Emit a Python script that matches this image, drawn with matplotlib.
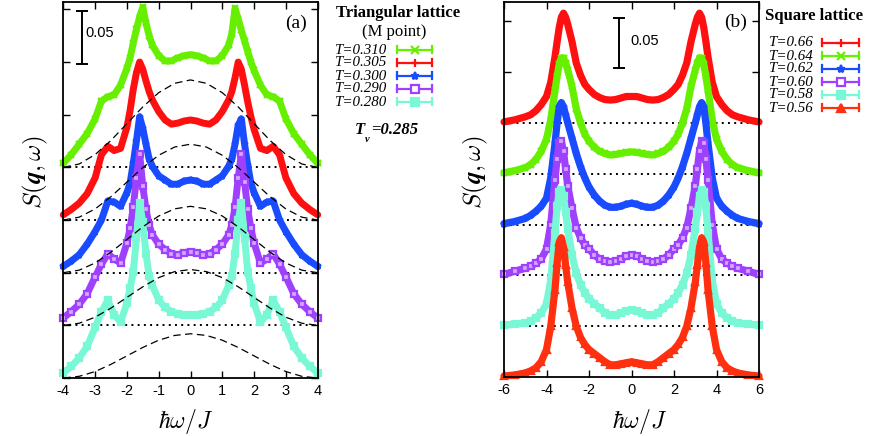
import numpy as np
import matplotlib
matplotlib.use('Agg')
import matplotlib.pyplot as plt

plt.rcParams['mathtext.fontset'] = 'cm'

# ---------------- Panel (a): triangular lattice (M point) ----------------
tri_labels = ['T=0.310', 'T=0.305', 'T=0.300', 'T=0.290', 'T=0.280']
tri_offsets = [0.20, 0.15, 0.10, 0.05, 0.00]
tri_colors = ['#66f000', '#ff1010', '#1a4cff', '#a040ff', '#78f8d4']
tri_markers = ['x', '+', '*', 's', 's']
tri_mfill = [True, True, True, False, True]

tri_x = [-4.0, -3.75, -3.5, -3.25, -3.0, -2.8, -2.6, -2.4, -2.2, -2.0, -1.9, -1.8,
         -1.7, -1.6, -1.5, -1.4, -1.3, -1.2, -1.0, -0.8, -0.6, -0.4, -0.2, 0.0,
         0.2, 0.4, 0.6, 0.8, 1.0, 1.2, 1.3, 1.4, 1.5, 1.6, 1.7, 1.8, 1.9, 2.0,
         2.2, 2.4, 2.6, 2.8, 3.0, 3.25, 3.5, 3.75, 4.0]

s_t310 = [0.004, 0.012, 0.022, 0.032, 0.046, 0.063, 0.067, 0.069, 0.078, 0.094, 0.104, 0.118,
          0.131, 0.143, 0.152, 0.137, 0.125, 0.116, 0.106, 0.101, 0.101, 0.104, 0.106, 0.107,
          0.106, 0.104, 0.101, 0.101, 0.106, 0.116, 0.127, 0.151, 0.141, 0.130, 0.120, 0.110,
          0.100, 0.092, 0.078, 0.069, 0.067, 0.063, 0.046, 0.032, 0.022, 0.012, 0.004]
s_t305 = [0.005, 0.010, 0.016, 0.025, 0.040, 0.062, 0.070, 0.066, 0.068, 0.088, 0.104, 0.124,
          0.140, 0.150, 0.143, 0.132, 0.122, 0.114, 0.103, 0.095, 0.091, 0.092, 0.094, 0.095,
          0.094, 0.092, 0.091, 0.095, 0.103, 0.114, 0.122, 0.135, 0.150, 0.143, 0.128, 0.112,
          0.098, 0.086, 0.068, 0.066, 0.070, 0.062, 0.040, 0.025, 0.016, 0.010, 0.005]
s_t300 = [0.006, 0.011, 0.017, 0.027, 0.039, 0.050, 0.068, 0.067, 0.063, 0.076, 0.085, 0.104,
          0.125, 0.148, 0.137, 0.122, 0.108, 0.101, 0.092, 0.088, 0.084, 0.084, 0.087, 0.088,
          0.087, 0.084, 0.084, 0.088, 0.092, 0.101, 0.108, 0.122, 0.140, 0.146, 0.122, 0.102,
          0.085, 0.076, 0.063, 0.067, 0.068, 0.050, 0.039, 0.027, 0.017, 0.011, 0.006]
s_t290 = [0.007, 0.013, 0.020, 0.030, 0.046, 0.058, 0.068, 0.063, 0.059, 0.078, 0.092, 0.112,
          0.140, 0.163, 0.132, 0.110, 0.095, 0.086, 0.077, 0.072, 0.068, 0.067, 0.069, 0.070,
          0.069, 0.067, 0.068, 0.072, 0.077, 0.086, 0.095, 0.112, 0.140, 0.163, 0.136, 0.110,
          0.092, 0.078, 0.059, 0.063, 0.068, 0.058, 0.046, 0.030, 0.020, 0.013, 0.007]
s_t280 = [0.005, 0.011, 0.019, 0.030, 0.048, 0.063, 0.074, 0.060, 0.053, 0.071, 0.085, 0.101,
          0.133, 0.166, 0.148, 0.118, 0.097, 0.088, 0.074, 0.067, 0.063, 0.061, 0.060, 0.060,
          0.060, 0.061, 0.063, 0.067, 0.074, 0.088, 0.097, 0.118, 0.150, 0.166, 0.133, 0.101,
          0.085, 0.071, 0.053, 0.060, 0.074, 0.063, 0.048, 0.030, 0.019, 0.011, 0.005]
tri_series = [s_t310, s_t305, s_t300, s_t290, s_t280]

# dashed reference curves (one per offset, bottom to top)
dash_x = [-4.0, -3.5, -3.0, -2.5, -2.0, -1.5, -1.0, -0.5, 0.0, 0.5, 1.0, 1.5, 2.0, 2.5, 3.0, 3.5, 4.0]
dash_offsets = [0.00, 0.05, 0.10, 0.15, 0.20]
dash_0 = [0.0, 0.0016, 0.0061, 0.0130, 0.0210, 0.0290, 0.0359, 0.0404, 0.0420,
          0.0404, 0.0359, 0.0290, 0.0210, 0.0130, 0.0061, 0.0016, 0.0]
dash_1 = [0.0, 0.0020, 0.0077, 0.0164, 0.0265, 0.0366, 0.0453, 0.0510, 0.0530,
          0.0510, 0.0453, 0.0366, 0.0265, 0.0164, 0.0077, 0.0020, 0.0]
dash_2 = [0.0, 0.0024, 0.0092, 0.0195, 0.0315, 0.0435, 0.0538, 0.0606, 0.0630,
          0.0606, 0.0538, 0.0435, 0.0315, 0.0195, 0.0092, 0.0024, 0.0]
dash_3 = [0.0, 0.0027, 0.0105, 0.0222, 0.0360, 0.0498, 0.0615, 0.0693, 0.0720,
          0.0693, 0.0615, 0.0498, 0.0360, 0.0222, 0.0105, 0.0027, 0.0]
dash_4 = [0.0, 0.0032, 0.0121, 0.0256, 0.0415, 0.0574, 0.0709, 0.0798, 0.0830,
          0.0798, 0.0709, 0.0574, 0.0415, 0.0256, 0.0121, 0.0032, 0.0]
dash_series = [dash_0, dash_1, dash_2, dash_3, dash_4]
tri_dotted = [0.05, 0.10, 0.15, 0.20]

# ---------------- Panel (b): square lattice ----------------
sq_labels = ['T=0.66', 'T=0.64', 'T=0.62', 'T=0.60', 'T=0.58', 'T=0.56']
sq_offsets = [0.25, 0.20, 0.15, 0.10, 0.05, 0.00]
sq_colors = ['#ff1010', '#66f000', '#1a4cff', '#a040ff', '#78f8d4', '#ff3010']
sq_markers = ['+', 'x', '*', 's', 's', '^']
sq_mfill = [True, True, True, False, True, True]

sq_x = [-6.0, -5.5, -5.0, -4.75, -4.5, -4.25, -4.0, -3.8, -3.6, -3.5, -3.4, -3.3, -3.2, -3.1,
        -3.0, -2.8, -2.6, -2.4, -2.2, -2.0, -1.75, -1.5, -1.25, -1.0, -0.75, -0.5, -0.25, 0.0,
        0.25, 0.5, 0.75, 1.0, 1.25, 1.5, 1.75, 2.0, 2.2, 2.4, 2.6, 2.8, 3.0, 3.1, 3.2, 3.3,
        3.4, 3.5, 3.6, 3.8, 4.0, 4.25, 4.5, 4.75, 5.0, 5.5, 6.0]

s_t66 = [0.001, 0.003, 0.006, 0.008, 0.012, 0.018, 0.026, 0.040, 0.065, 0.080, 0.094, 0.104, 0.108, 0.104,
         0.097, 0.080, 0.059, 0.047, 0.038, 0.033, 0.028, 0.025, 0.023, 0.0225, 0.023, 0.0245, 0.026, 0.026,
         0.026, 0.0245, 0.023, 0.0225, 0.023, 0.025, 0.028, 0.033, 0.038, 0.047, 0.059, 0.080, 0.097, 0.104,
         0.108, 0.104, 0.094, 0.080, 0.065, 0.040, 0.026, 0.018, 0.012, 0.008, 0.006, 0.003, 0.001]
s_t64 = [0.001, 0.003, 0.006, 0.009, 0.014, 0.022, 0.034, 0.053, 0.082, 0.096, 0.108, 0.114, 0.114, 0.109,
         0.102, 0.086, 0.064, 0.050, 0.039, 0.032, 0.026, 0.022, 0.020, 0.0185, 0.019, 0.020, 0.021, 0.0215,
         0.021, 0.020, 0.019, 0.0185, 0.020, 0.022, 0.026, 0.032, 0.039, 0.050, 0.064, 0.086, 0.102, 0.109,
         0.114, 0.114, 0.108, 0.096, 0.082, 0.053, 0.034, 0.022, 0.014, 0.009, 0.006, 0.003, 0.001]
s_t62 = [0.001, 0.003, 0.006, 0.009, 0.013, 0.018, 0.026, 0.046, 0.080, 0.100, 0.116, 0.120, 0.116, 0.108,
         0.100, 0.085, 0.070, 0.057, 0.046, 0.037, 0.029, 0.023, 0.019, 0.017, 0.017, 0.018, 0.020, 0.021,
         0.020, 0.018, 0.017, 0.017, 0.019, 0.023, 0.029, 0.037, 0.046, 0.057, 0.070, 0.085, 0.100, 0.108,
         0.116, 0.120, 0.116, 0.100, 0.080, 0.046, 0.026, 0.018, 0.013, 0.009, 0.006, 0.003, 0.001]
s_t60 = [0.001, 0.004, 0.007, 0.009, 0.012, 0.016, 0.026, 0.050, 0.094, 0.115, 0.130, 0.132, 0.122, 0.105,
         0.088, 0.066, 0.047, 0.037, 0.030, 0.026, 0.020, 0.016, 0.014, 0.013, 0.014, 0.016, 0.019, 0.020,
         0.019, 0.016, 0.014, 0.013, 0.014, 0.016, 0.020, 0.026, 0.030, 0.037, 0.047, 0.066, 0.088, 0.105,
         0.122, 0.132, 0.130, 0.115, 0.094, 0.050, 0.026, 0.016, 0.012, 0.009, 0.007, 0.004, 0.001]
s_t58 = [0.001, 0.002, 0.003, 0.005, 0.008, 0.013, 0.022, 0.045, 0.092, 0.118, 0.132, 0.134, 0.128, 0.112,
         0.096, 0.070, 0.052, 0.041, 0.033, 0.027, 0.022, 0.018, 0.013, 0.011, 0.011, 0.013, 0.015, 0.016,
         0.015, 0.013, 0.011, 0.011, 0.013, 0.018, 0.022, 0.027, 0.033, 0.041, 0.052, 0.070, 0.096, 0.112,
         0.128, 0.134, 0.132, 0.118, 0.092, 0.045, 0.022, 0.013, 0.008, 0.005, 0.003, 0.002, 0.001]
s_t56 = [0.001, 0.002, 0.004, 0.006, 0.009, 0.015, 0.027, 0.050, 0.086, 0.112, 0.133, 0.137, 0.128, 0.110,
         0.093, 0.068, 0.050, 0.039, 0.032, 0.027, 0.023, 0.019, 0.015, 0.012, 0.012, 0.013, 0.014, 0.015,
         0.014, 0.013, 0.012, 0.012, 0.015, 0.019, 0.023, 0.027, 0.032, 0.039, 0.050, 0.068, 0.093, 0.110,
         0.128, 0.137, 0.133, 0.112, 0.086, 0.050, 0.027, 0.015, 0.009, 0.006, 0.004, 0.002, 0.001]
sq_series = [s_t66, s_t64, s_t62, s_t60, s_t58, s_t56]
sq_dotted = [0.05, 0.10, 0.15, 0.20, 0.25]

scale_bar = 0.05
tri_xticks = [-4, -3, -2, -1, 0, 1, 2, 3, 4]
sq_xticks = [-6, -4, -2, 0, 2, 4, 6]

# ---------------- figure ----------------
W, H = 871.0, 436.0
fig = plt.figure(figsize=(W / 100, H / 100), dpi=100)


def pix_axes(l, t, r, b):
    return fig.add_axes([l / W, 1 - b / H, (r - l) / W, (b - t) / H])


axa = pix_axes(63.3, 2, 317.7, 378)
axb = pix_axes(504, 2, 759, 377)

tick_font = dict(family=['Liberation Sans', 'DejaVu Sans'], size=10.5)


def style_axes(ax, xlim, ylim, xticks):
    ax.set_xlim(*xlim)
    ax.set_ylim(*ylim)
    ax.set_xticks(xticks)
    ax.set_xticklabels([str(t) for t in xticks], fontdict=tick_font)
    ax.set_yticks(np.arange(0, ylim[1], 0.05))
    ax.tick_params(axis='both', direction='in', length=5, width=1.0, top=True, right=True,
                   labelleft=False, pad=4)
    for sp in ax.spines.values():
        sp.set_linewidth(1.3)


style_axes(axa, (-4, 4), (0, 0.357), tri_xticks)
style_axes(axb, (-6, 6), (0, 0.369), sq_xticks)

# dotted baselines
for yv in tri_dotted:
    axa.axhline(yv, color='black', lw=1.4, ls=(0, (1, 2.2)), zorder=1)
for yv in sq_dotted:
    axb.axhline(yv, color='black', lw=1.4, ls=(0, (1, 2.2)), zorder=1)


def face(c, filled):
    return c if filled else '#d0a8ff'


# spectra panel (a)
for i, (vals, off, c, m, f) in enumerate(zip(tri_series, tri_offsets, tri_colors, tri_markers, tri_mfill)):
    y = np.asarray(vals) + off
    axa.plot(tri_x, y, color=c, lw=5.0, solid_joinstyle='round', solid_capstyle='round',
             marker=m, ms=5, mew=1.6, mfc=face(c, f), mec=c, zorder=2 + i * 0.1,
             clip_on=False)

# dashed reference curves
for vals, off in zip(dash_series, dash_offsets):
    axa.plot(dash_x, np.asarray(vals) + off, color='black', lw=0.9, ls=(0, (6, 3.5)), zorder=5)

# spectra panel (b)
for i, (vals, off, c, m, f) in enumerate(zip(sq_series, sq_offsets, sq_colors, sq_markers, sq_mfill)):
    y = np.asarray(vals) + off
    axb.plot(sq_x, y, color=c, lw=5.2, solid_joinstyle='round', solid_capstyle='round',
             marker=m, ms=5, mew=1.6, mfc=face(c, f), mec=c, zorder=2 + i * 0.1,
             clip_on=False)

# scale bars (0.05)
axa.errorbar([-3.41], [0.3235], yerr=scale_bar / 2, color='black', lw=1.4, capsize=4.5,
             capthick=1.4, zorder=6)
axb.errorbar([-0.59], [0.3287], yerr=scale_bar / 2, color='black', lw=1.4, capsize=4.5,
             capthick=1.4, zorder=6)

# ---------------- overlay for annotations ----------------
ov = fig.add_axes([0, 0, 1, 1], zorder=10)
ov.set_xlim(0, W)
ov.set_ylim(H, 0)
ov.axis('off')
ov.patch.set_alpha(0)

serif = ['Liberation Serif', 'DejaVu Serif']
sans = ['Liberation Sans', 'DejaVu Sans']

ov.text(85, 33, '0.05', family=sans, size=10.5, va='center', ha='left')
ov.text(630, 41, '0.05', family=sans, size=10.5, va='center', ha='left')
ov.text(307, 23, '(a)', family=serif, size=14, va='center', ha='right')
ov.text(747, 22, '(b)', family=serif, size=14, va='center', ha='right')

# axis labels
ov.text(35, 172, r'$S(\boldsymbol{q},\omega)$', size=18, rotation=90, va='center', ha='center')
ov.text(475, 172, r'$S(\boldsymbol{q},\omega)$', size=18, rotation=90, va='center', ha='center')
ov.text(186, 421, r'$\hbar\omega/J$', size=17, va='center', ha='center')
ov.text(640, 421, r'$\hbar\omega/J$', size=17, va='center', ha='center')

# legend (a)
ov.text(398, 13, 'Triangular lattice', family=serif, weight='bold', size=12, va='center', ha='center')
ov.text(394, 32, '(M point)', family=serif, size=12, va='center', ha='center')
rows_a = [50, 63, 76, 89, 102]


def legend_row(x_text, x1, x2, y, label, color, marker, filled):
    ov.text(x_text, y, label, family=serif, style='italic', size=10.8, va='center', ha='left')
    ov.plot([x1, x2], [y, y], color=color, lw=1.6)
    ov.plot([x1, x1], [y - 3.5, y + 3.5], color=color, lw=1.6)
    ov.plot([x2, x2], [y - 3.5, y + 3.5], color=color, lw=1.6)
    ov.plot([(x1 + x2) / 2], [y], marker=marker, ms=6, mew=1.6, color=color,
            mfc=(color if filled else 'white'), mec=color)


for y, lab, c, m, f in zip(rows_a, tri_labels, tri_colors, tri_markers, tri_mfill):
    legend_row(334, 397, 432, y, lab, c, m, f)

ov.text(355, 130, 'T', family=serif, style='italic', weight='bold', size=12, va='center', ha='left')
ov.text(365, 139, 'v', family=serif, style='italic', weight='bold', size=7.5, va='center', ha='left')
ov.text(371, 130, '=0.285', family=serif, style='italic', weight='bold', size=12, va='center', ha='left')

# legend (b)
ov.text(765, 16, 'Square lattice', family=serif, weight='bold', size=12, va='center', ha='left')
rows_b = [43, 56, 69, 82, 95, 108]
for y, lab, c, m, f in zip(rows_b, sq_labels, sq_colors, sq_markers, sq_mfill):
    legend_row(768, 822, 859, y, lab, c, m, f)

fig.savefig('out.png', dpi=100)
